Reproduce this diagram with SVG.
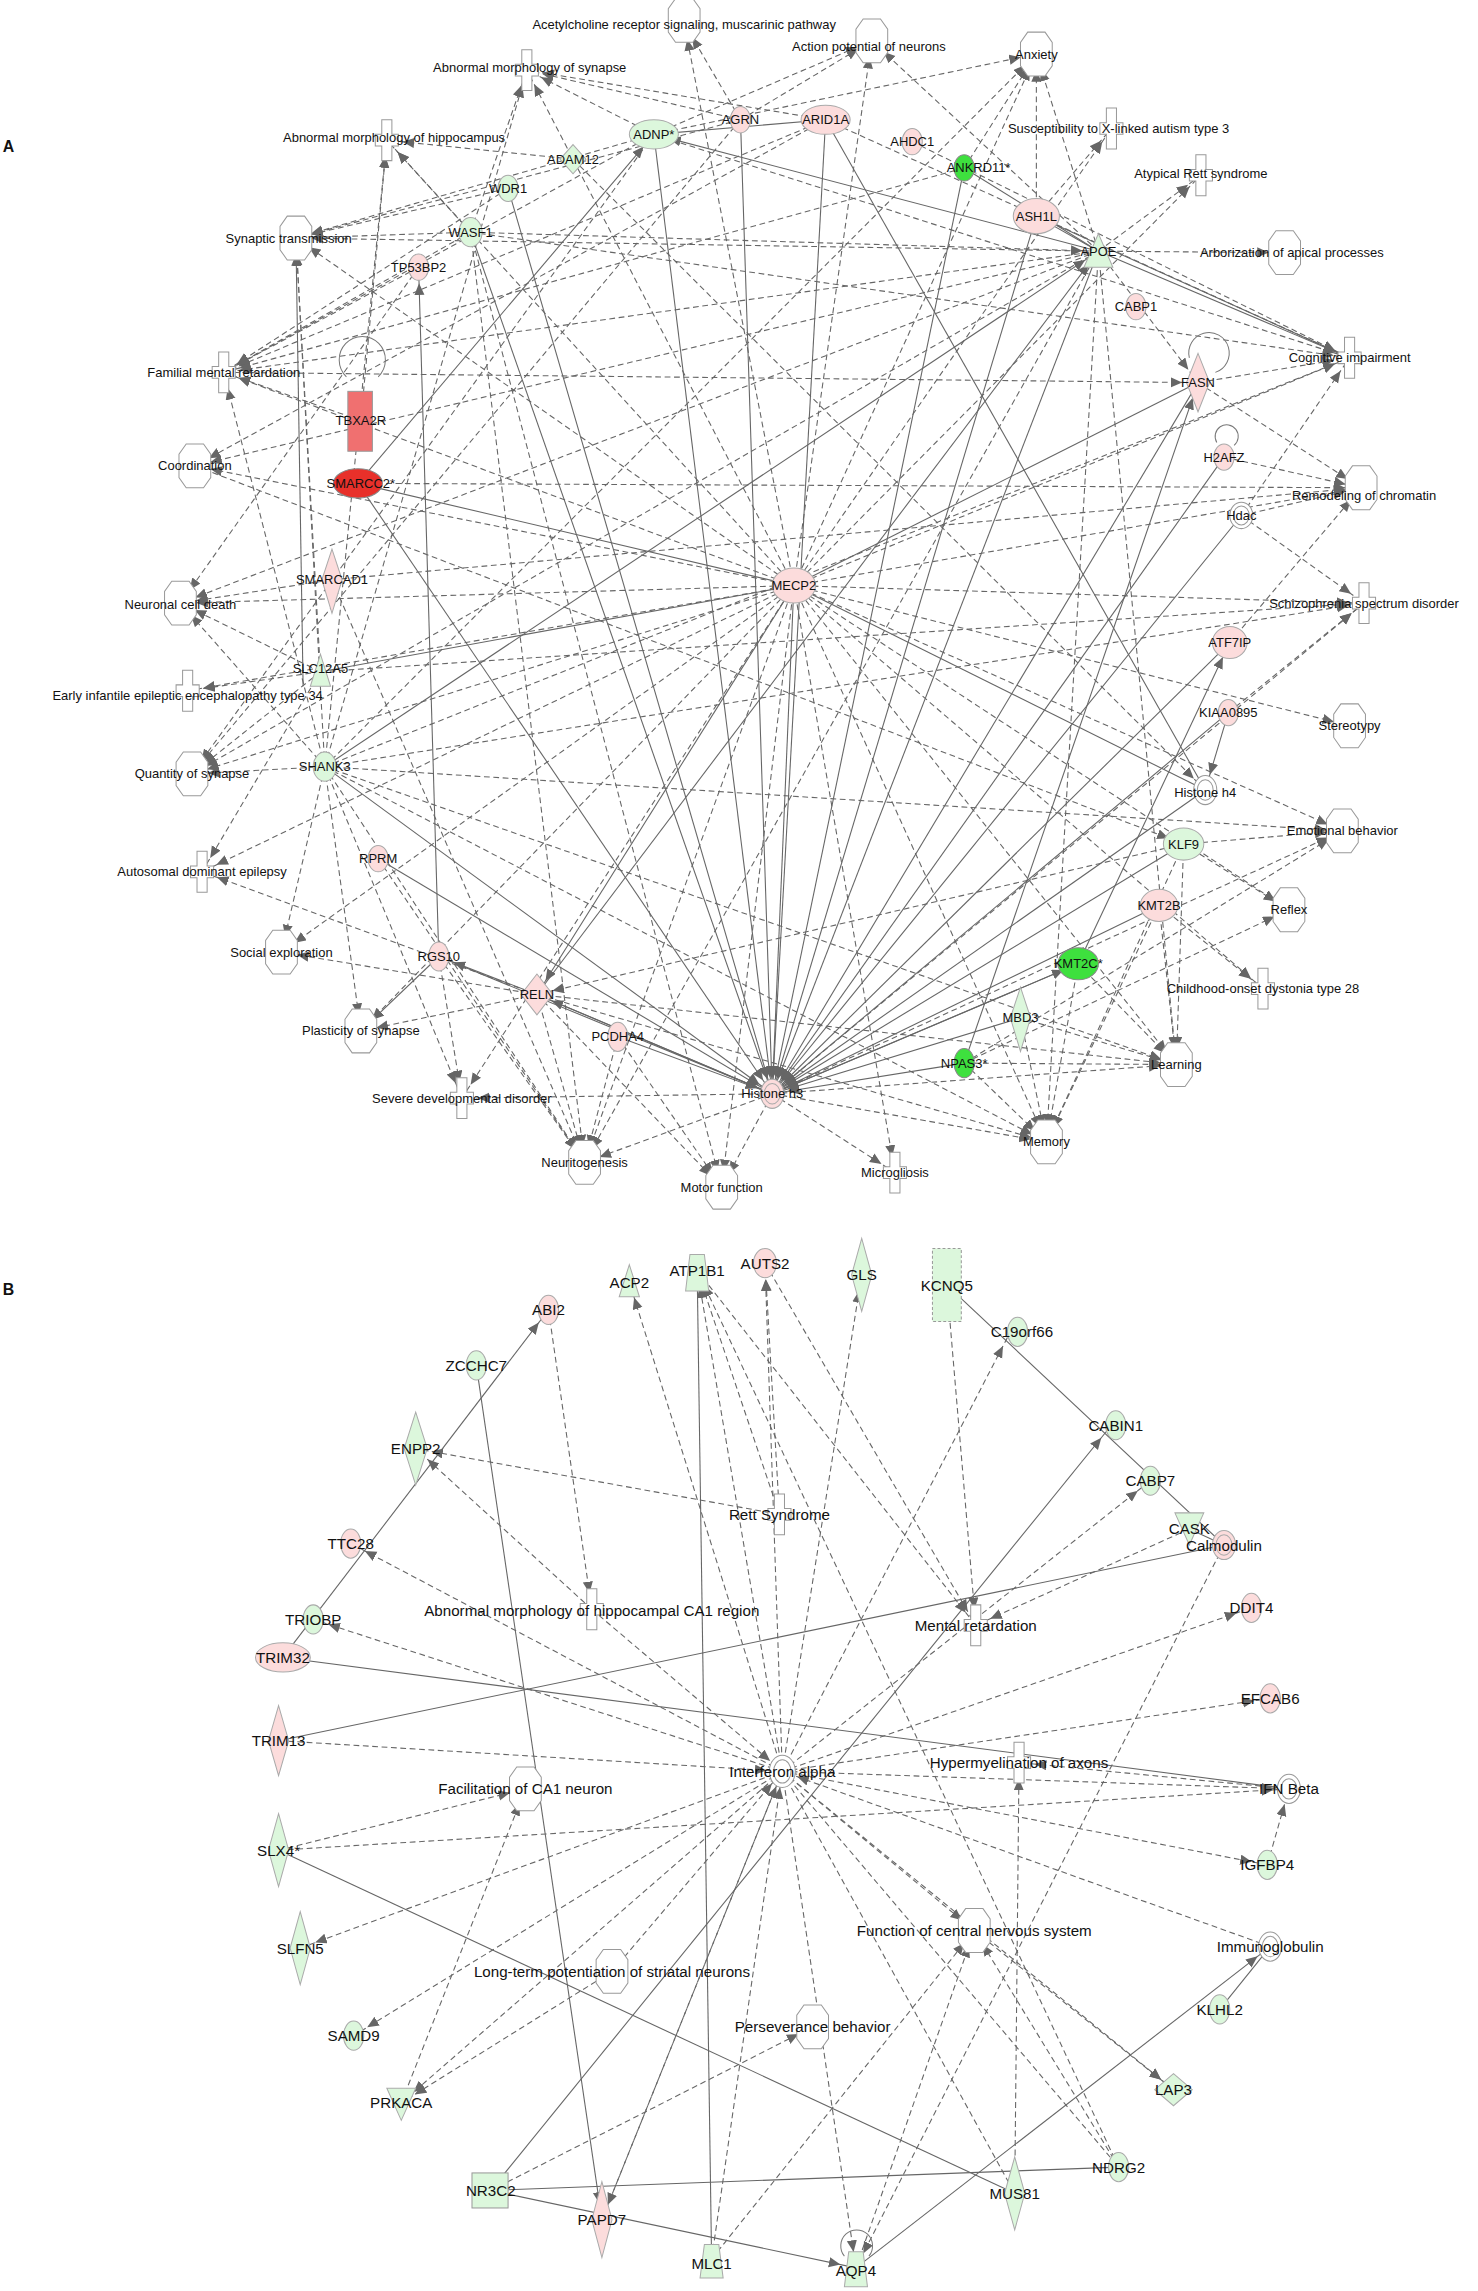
<svg xmlns="http://www.w3.org/2000/svg" xmlns:xlink="http://www.w3.org/1999/xlink" width="1478" height="2291" viewBox="0 0 1478 2291">
<style>
text{font-family:"Liberation Sans",Arial,sans-serif;font-size:9px;fill:#111;text-anchor:middle;dominant-baseline:central}
.pb text{font-size:10.5px}
.lbl{font-size:11px;font-weight:bold;text-anchor:start}
line{stroke:#666;stroke-width:0.75;fill:none}
.d{stroke-dasharray:4 2.5;marker-end:url(#ar)}
.s{marker-end:url(#ar)}
.dn{stroke-dasharray:4 2.5}
.fn{fill:#fff;stroke:#999;stroke-width:0.7}
.pk{fill:#fcdcdc;stroke:#aaa;stroke-width:0.7}
.gr{fill:#dcf7dc;stroke:#aaa;stroke-width:0.7}
.bg{fill:#3ee03e;stroke:#888;stroke-width:0.7}
.rd{fill:#e8302a;stroke:#888;stroke-width:0.7}
.loop{fill:none;stroke:#777;stroke-width:0.7}
</style>
<defs>
<marker id="ar" markerUnits="userSpaceOnUse" markerWidth="30" markerHeight="10" refX="19" refY="3.5" orient="auto"><path d="M0,0 L8,3.5 L0,7 z" fill="#666"/></marker>
<polygon id="oct" class="fn" points="-6,-15 6,-15 11,-8 11,8 6,15 -6,15 -11,8 -11,-8"/>
<polygon id="crs" class="fn" points="-3.5,-14 3.5,-14 3.5,-4 8,-4 8,4 3.5,4 3.5,14 -3.5,14 -3.5,4 -8,4 -8,-4 -3.5,-4"/>
</defs>
<rect width="1478" height="2291" fill="#fff"/>
<g transform="scale(1.4434,1.4603)">
<text class="lbl" x="2" y="100">A</text>
<text class="lbl" x="2" y="883">B</text>
<g id="connectors">
<line class="d" x1="550" y1="401" x2="474" y2="16"/><line class="d" x1="550" y1="401" x2="604" y2="28"/><line class="d" x1="550" y1="401" x2="718" y2="37"/><line class="d" x1="550" y1="401" x2="365" y2="48"/><line class="d" x1="550" y1="401" x2="268" y2="96"/><line class="d" x1="550" y1="401" x2="205" y2="163"/><line class="d" x1="550" y1="401" x2="155" y2="255"/><line class="d" x1="550" y1="401" x2="135" y2="319"/><line class="d" x1="550" y1="401" x2="943" y2="334"/><line class="d" x1="550" y1="401" x2="125" y2="413"/><line class="d" x1="550" y1="401" x2="945" y2="413"/><line class="d" x1="550" y1="401" x2="130" y2="473"/><line class="d" x1="550" y1="401" x2="935" y2="497"/><line class="d" x1="550" y1="401" x2="133" y2="530"/><line class="d" x1="550" y1="401" x2="930" y2="569"/><line class="d" x1="550" y1="401" x2="140" y2="597"/><line class="d" x1="550" y1="401" x2="893" y2="623"/><line class="d" x1="550" y1="401" x2="195" y2="652"/><line class="d" x1="550" y1="401" x2="250" y2="706"/><line class="d" x1="550" y1="401" x2="815" y2="729"/><line class="d" x1="550" y1="401" x2="320" y2="752"/><line class="d" x1="550" y1="401" x2="405" y2="796"/><line class="d" x1="550" y1="401" x2="500" y2="813"/><line class="d" x1="550" y1="401" x2="620" y2="803"/><line class="d" x1="550" y1="401" x2="725" y2="782"/><line class="d" x1="550" y1="401" x2="935" y2="245"/><line class="d" x1="550" y1="401" x2="770" y2="88"/><line class="d" x1="550" y1="401" x2="832" y2="120"/><line class="d" x1="550" y1="401" x2="875" y2="677"/>
<line class="s" x1="550" y1="401" x2="535" y2="749"/><line x1="550" y1="401" x2="222" y2="460"/><line class="s" x1="550" y1="401" x2="372" y2="681"/><line x1="550" y1="401" x2="830" y2="262"/><line x1="248" y1="331" x2="550" y2="401"/><line x1="550" y1="401" x2="835" y2="541"/>
<line class="s" x1="572" y1="82" x2="535" y2="749"/><line class="s" x1="453" y1="92" x2="535" y2="749"/><line class="s" x1="718" y1="148" x2="535" y2="749"/><line class="s" x1="761" y1="172" x2="535" y2="749"/><line class="s" x1="830" y1="262" x2="535" y2="749"/><line class="s" x1="852" y1="440" x2="535" y2="749"/><line class="s" x1="851" y1="488" x2="535" y2="749"/><line class="s" x1="835" y1="541" x2="535" y2="749"/><line class="s" x1="820" y1="578" x2="535" y2="749"/><line class="s" x1="803" y1="620" x2="535" y2="749"/><line class="s" x1="747" y1="660" x2="535" y2="749"/><line class="s" x1="225" y1="525" x2="535" y2="749"/><line class="s" x1="262" y1="588" x2="535" y2="749"/><line class="s" x1="304" y1="655" x2="535" y2="749"/><line class="s" x1="372" y1="681" x2="535" y2="749"/><line class="s" x1="326" y1="159" x2="535" y2="749"/><line class="s" x1="352" y1="129" x2="535" y2="749"/><line class="s" x1="513" y1="82" x2="535" y2="749"/><line class="s" x1="848" y1="313" x2="535" y2="749"/><line class="s" x1="860" y1="353" x2="535" y2="749"/><line class="s" x1="668" y1="728" x2="535" y2="749"/><line class="s" x1="707" y1="697" x2="535" y2="749"/><line class="s" x1="428" y1="710" x2="535" y2="749"/><line class="s" x1="248" y1="331" x2="535" y2="749"/><line class="s" x1="668" y1="115" x2="535" y2="749"/>
<line class="d" x1="535" y1="749" x2="405" y2="796"/><line class="d" x1="535" y1="749" x2="725" y2="782"/><line class="d" x1="535" y1="749" x2="815" y2="729"/><line class="d" x1="535" y1="749" x2="320" y2="752"/><line class="d" x1="535" y1="749" x2="620" y2="803"/><line class="d" x1="535" y1="749" x2="500" y2="813"/><line class="d" x1="535" y1="749" x2="945" y2="413"/><line class="d" x1="535" y1="749" x2="930" y2="569"/>
<line class="d" x1="761" y1="172" x2="718" y2="37"/><line class="d" x1="761" y1="172" x2="832" y2="120"/><line class="d" x1="761" y1="172" x2="890" y2="173"/><line class="s" x1="761" y1="172" x2="935" y2="245"/><line class="d" x1="761" y1="172" x2="205" y2="163"/><line class="d" x1="761" y1="172" x2="155" y2="255"/><line class="d" x1="761" y1="172" x2="133" y2="530"/><line class="d" x1="761" y1="172" x2="125" y2="413"/><line class="d" x1="761" y1="172" x2="135" y2="319"/><line class="d" x1="761" y1="172" x2="815" y2="729"/><line class="d" x1="761" y1="172" x2="725" y2="782"/><line class="d" x1="761" y1="172" x2="604" y2="28"/><line class="s" x1="761" y1="172" x2="453" y2="92"/><line x1="718" y1="148" x2="761" y2="172"/><line class="s" x1="372" y1="681" x2="761" y2="172"/><line class="s" x1="225" y1="525" x2="761" y2="172"/><line class="d" x1="761" y1="172" x2="830" y2="262"/><line class="d" x1="761" y1="172" x2="405" y2="796"/>
<line class="d" x1="453" y1="92" x2="718" y2="37"/><line class="d" x1="453" y1="92" x2="365" y2="48"/><line class="d" x1="453" y1="92" x2="205" y2="163"/><line class="d" x1="453" y1="92" x2="155" y2="255"/><line class="d" x1="453" y1="92" x2="935" y2="245"/><line class="d" x1="453" y1="92" x2="604" y2="28"/><line x1="453" y1="92" x2="572" y2="82"/><line class="d" x1="453" y1="92" x2="133" y2="530"/>
<line class="d" x1="572" y1="82" x2="155" y2="255"/><line class="d" x1="572" y1="82" x2="135" y2="319"/><line class="d" x1="572" y1="82" x2="935" y2="245"/><line class="d" x1="572" y1="82" x2="365" y2="48"/><line x1="572" y1="82" x2="835" y2="541"/>
<line class="d" x1="513" y1="82" x2="365" y2="48"/><line class="d" x1="513" y1="82" x2="205" y2="163"/><line class="d" x1="513" y1="82" x2="474" y2="16"/><line class="d" x1="513" y1="82" x2="604" y2="28"/><line class="d" x1="513" y1="82" x2="133" y2="530"/>
<line class="d" x1="632" y1="97" x2="935" y2="245"/><line class="d" x1="668" y1="115" x2="718" y2="37"/><line x1="668" y1="115" x2="761" y2="172"/><line class="d" x1="668" y1="115" x2="155" y2="255"/>
<line class="d" x1="718" y1="148" x2="718" y2="37"/><line class="d" x1="718" y1="148" x2="770" y2="88"/><line class="s" x1="718" y1="148" x2="935" y2="245"/>
<line class="d" x1="397" y1="109" x2="268" y2="96"/><line class="d" x1="397" y1="109" x2="835" y2="541"/><line class="d" x1="352" y1="129" x2="205" y2="163"/><line class="d" x1="352" y1="129" x2="155" y2="255"/>
<line class="d" x1="326" y1="159" x2="205" y2="163"/><line class="d" x1="326" y1="159" x2="155" y2="255"/><line class="d" x1="326" y1="159" x2="268" y2="96"/><line class="d" x1="326" y1="159" x2="365" y2="48"/><line class="d" x1="326" y1="159" x2="405" y2="796"/><line class="d" x1="326" y1="159" x2="500" y2="813"/><line class="d" x1="326" y1="159" x2="761" y2="172"/><line class="d" x1="326" y1="159" x2="935" y2="245"/>
<line class="d" x1="290" y1="183" x2="125" y2="413"/><line class="d" x1="290" y1="183" x2="155" y2="255"/>
<line class="d" x1="225" y1="525" x2="268" y2="96"/><line class="d" x1="225" y1="525" x2="365" y2="48"/><line class="d" x1="225" y1="525" x2="205" y2="163"/><line class="d" x1="225" y1="525" x2="155" y2="255"/><line class="d" x1="225" y1="525" x2="133" y2="530"/><line class="d" x1="225" y1="525" x2="195" y2="652"/><line class="d" x1="225" y1="525" x2="250" y2="706"/><line class="d" x1="225" y1="525" x2="320" y2="752"/><line class="d" x1="225" y1="525" x2="405" y2="796"/><line class="d" x1="225" y1="525" x2="815" y2="729"/><line class="d" x1="225" y1="525" x2="725" y2="782"/><line class="d" x1="225" y1="525" x2="718" y2="37"/><line class="d" x1="225" y1="525" x2="930" y2="569"/><line class="d" x1="225" y1="525" x2="945" y2="413"/><line class="d" x1="225" y1="525" x2="935" y2="245"/><line class="d" x1="225" y1="525" x2="125" y2="413"/>
<line class="d" x1="222" y1="460" x2="130" y2="473"/><line class="d" x1="222" y1="460" x2="125" y2="413"/><line class="d" x1="222" y1="460" x2="205" y2="163"/><line class="d" x1="222" y1="460" x2="133" y2="530"/><line class="d" x1="222" y1="460" x2="945" y2="413"/><line class="d" x1="222" y1="460" x2="140" y2="597"/>
<line class="d" x1="230" y1="397" x2="125" y2="413"/><line class="d" x1="230" y1="397" x2="943" y2="334"/><line class="d" x1="230" y1="397" x2="405" y2="796"/>
<line class="d" x1="250" y1="288" x2="155" y2="255"/><line class="d" x1="250" y1="288" x2="268" y2="96"/><line class="d" x1="248" y1="331" x2="943" y2="334"/><line class="s" x1="248" y1="331" x2="453" y2="92"/><line class="d" x1="135" y1="319" x2="820" y2="578"/>
<line class="d" x1="830" y1="262" x2="935" y2="245"/><line class="d" x1="830" y1="262" x2="943" y2="334"/><line class="d" x1="155" y1="255" x2="830" y2="262"/><line class="s" x1="668" y1="728" x2="830" y2="262"/>
<line class="d" x1="848" y1="313" x2="943" y2="334"/><line class="d" x1="860" y1="353" x2="943" y2="334"/><line class="d" x1="860" y1="353" x2="935" y2="245"/><line class="d" x1="860" y1="353" x2="945" y2="413"/>
<line class="d" x1="852" y1="440" x2="943" y2="334"/><line class="d" x1="851" y1="488" x2="945" y2="413"/><line class="s" x1="851" y1="488" x2="835" y2="541"/><line class="s" x1="747" y1="660" x2="852" y2="440"/>
<line class="d" x1="820" y1="578" x2="930" y2="569"/><line class="d" x1="820" y1="578" x2="893" y2="623"/><line class="d" x1="820" y1="578" x2="725" y2="782"/><line class="d" x1="820" y1="578" x2="815" y2="729"/><line class="d" x1="820" y1="578" x2="372" y2="681"/>
<line class="d" x1="803" y1="620" x2="875" y2="677"/><line class="d" x1="803" y1="620" x2="815" y2="729"/><line class="d" x1="803" y1="620" x2="725" y2="782"/>
<line class="d" x1="747" y1="660" x2="815" y2="729"/><line class="d" x1="747" y1="660" x2="725" y2="782"/><line class="s" x1="535" y1="749" x2="747" y2="660"/>
<line class="d" x1="668" y1="728" x2="815" y2="729"/><line class="d" x1="668" y1="728" x2="725" y2="782"/><line class="d" x1="668" y1="728" x2="930" y2="569"/><line class="d" x1="668" y1="728" x2="893" y2="623"/>
<line class="d" x1="707" y1="697" x2="725" y2="782"/><line class="d" x1="707" y1="697" x2="815" y2="729"/>
<line class="d" x1="372" y1="681" x2="250" y2="706"/><line class="d" x1="372" y1="681" x2="140" y2="597"/><line class="d" x1="372" y1="681" x2="405" y2="796"/><line class="d" x1="372" y1="681" x2="500" y2="813"/><line class="d" x1="372" y1="681" x2="815" y2="729"/><line class="d" x1="372" y1="681" x2="725" y2="782"/><line class="d" x1="372" y1="681" x2="195" y2="652"/><line class="s" x1="535" y1="749" x2="372" y2="681"/><line class="s" x1="372" y1="681" x2="304" y2="655"/>
<line class="d" x1="262" y1="588" x2="405" y2="796"/><line class="s" x1="304" y1="655" x2="250" y2="706"/><line class="d" x1="304" y1="655" x2="320" y2="752"/><line class="d" x1="304" y1="655" x2="405" y2="796"/><line class="s" x1="304" y1="655" x2="290" y2="183"/>
<line class="d" x1="428" y1="710" x2="405" y2="796"/><line class="d" x1="428" y1="710" x2="500" y2="813"/>
<line class="s" x1="210" y1="470" x2="205" y2="163"/>
<line class="s" x1="196" y1="1135" x2="380" y2="897"/><line class="s" x1="330" y1="935" x2="417" y2="1520"/><line x1="483" y1="870" x2="493" y2="1547"/><line x1="656" y1="880" x2="848" y2="1058"/><line x1="824" y1="1047" x2="848" y2="1058"/><line x1="848" y1="1058" x2="193" y2="1192"/><line x1="196" y1="1135" x2="893" y2="1225"/><line class="s" x1="340" y1="1500" x2="770" y2="976"/><line x1="340" y1="1500" x2="775" y2="1484"/><line class="s" x1="340" y1="1500" x2="593" y2="1553"/><line x1="193" y1="1267" x2="703" y2="1502"/><line class="s" x1="593" y1="1553" x2="880" y2="1333"/><line x1="845" y1="1376" x2="880" y2="1333"/>
<line class="d" x1="542" y1="1213" x2="436" y2="878"/><line class="d" x1="542" y1="1213" x2="483" y2="870"/><line class="d" x1="542" y1="1213" x2="530" y2="865"/><line class="d" x1="542" y1="1213" x2="597" y2="873"/><line class="d" x1="542" y1="1213" x2="243" y2="1057"/><line class="d" x1="542" y1="1213" x2="217" y2="1109"/><line class="d" x1="542" y1="1213" x2="208" y2="1334"/><line class="d" x1="542" y1="1213" x2="278" y2="1440"/><line class="d" x1="542" y1="1213" x2="878" y2="1277"/><line class="d" x1="542" y1="1213" x2="813" y2="1431"/><line class="d" x1="542" y1="1213" x2="880" y2="1163"/><line class="d" x1="542" y1="1213" x2="867" y2="1101"/><line class="d" x1="542" y1="1213" x2="893" y2="1225"/><line class="dn" x1="542" y1="1213" x2="775" y2="1484"/><line class="dn" x1="542" y1="1213" x2="703" y2="1502"/><line class="d" x1="542" y1="1213" x2="417" y2="1520"/><line class="d" x1="542" y1="1213" x2="593" y2="1553"/><line class="d" x1="542" y1="1213" x2="700" y2="912"/><line class="d" x1="542" y1="1213" x2="797" y2="1014"/><line class="d" x1="542" y1="1213" x2="675" y2="1322"/><line class="d" x1="193" y1="1192" x2="542" y2="1213"/><line class="d" x1="193" y1="1267" x2="364" y2="1225"/><line class="d" x1="493" y1="1547" x2="542" y2="1213"/><line class="d" x1="880" y1="1333" x2="542" y2="1213"/><line class="d" x1="410" y1="1102" x2="542" y2="1213"/><line class="d" x1="893" y1="1225" x2="706" y2="1207"/>
<line class="d" x1="540" y1="1037" x2="288" y2="992"/><line class="d" x1="540" y1="1037" x2="530" y2="865"/><line class="d" x1="540" y1="1037" x2="483" y2="870"/><line class="d" x1="380" y1="897" x2="410" y2="1102"/><line class="d" x1="410" y1="1102" x2="288" y2="992"/>
<line class="d" x1="530" y1="865" x2="676" y2="1113"/><line class="d" x1="656" y1="880" x2="676" y2="1113"/><line class="d" x1="824" y1="1047" x2="676" y2="1113"/><line class="d" x1="483" y1="870" x2="676" y2="1113"/>
<line class="d" x1="593" y1="1553" x2="675" y2="1322"/><line class="d" x1="493" y1="1547" x2="675" y2="1322"/><line class="d" x1="775" y1="1484" x2="675" y2="1322"/><line class="d" x1="675" y1="1322" x2="813" y2="1431"/>
<line class="d" x1="424" y1="1350" x2="278" y2="1440"/><line class="d" x1="340" y1="1500" x2="563" y2="1388"/><line class="d" x1="278" y1="1440" x2="364" y2="1225"/><line class="d" x1="193" y1="1267" x2="893" y2="1225"/><line class="d" x1="542" y1="1213" x2="245" y2="1394"/><line class="d" x1="848" y1="1058" x2="593" y2="1553"/><line class="d" x1="878" y1="1277" x2="893" y2="1225"/><line class="d" x1="775" y1="1484" x2="483" y2="870"/><line class="d" x1="703" y1="1502" x2="706" y2="1207"/><line class="d" x1="417" y1="1520" x2="542" y2="1213"/><line class="d" x1="424" y1="1350" x2="542" y2="1213"/>
</g>
<path class="loop" d="M240,258 A16,16 0 1 1 262,258"/>
<path class="loop" d="M824,245 A14,14 0 1 1 842,255"/>
<path class="loop" d="M843,303 A8,8 0 1 1 855,305"/>
<path class="loop" d="M585,1545 A11,11 0 1 1 602,1545"/>
<g id="f-ach"><use href="#oct" x="474" y="14"/><text x="474" y="17">Acetylcholine receptor signaling, muscarinic pathway</text></g>
<g id="f-ap"><use href="#oct" x="604" y="28"/><text x="602" y="32">Action potential of neurons</text></g>
<g id="f-anx"><use href="#oct" x="718" y="37"/><text x="718" y="37">Anxiety</text></g>
<g id="f-ams"><use href="#crs" x="365" y="48"/><text x="367" y="46">Abnormal morphology of synapse</text></g>
<g id="f-amh"><use href="#crs" x="268" y="96"/><text x="273" y="94">Abnormal morphology of hippocampus</text></g>
<g id="f-sxa"><use href="#crs" x="770" y="88"/><text x="775" y="88">Susceptibility to X-linked autism type 3</text></g>
<g id="f-ars"><use href="#crs" x="832" y="120"/><text x="832" y="119">Atypical Rett syndrome</text></g>
<g id="f-st"><use href="#oct" x="205" y="163"/><text x="200" y="163">Synaptic transmission</text></g>
<g id="f-aap"><use href="#oct" x="890" y="173"/><text x="895" y="173">Arborization of apical processes</text></g>
<g id="f-ci"><use href="#crs" x="935" y="245"/><text x="935" y="245">Cognitive impairment</text></g>
<g id="f-fmr"><use href="#crs" x="155" y="255"/><text x="155" y="255">Familial mental retardation</text></g>
<g id="f-co"><use href="#oct" x="135" y="319"/><text x="135" y="319">Coordination</text></g>
<g id="f-rc"><use href="#oct" x="943" y="334"/><text x="945" y="339">Remodeling of chromatin</text></g>
<g id="f-ncd"><use href="#oct" x="125" y="413"/><text x="125" y="414">Neuronal cell death</text></g>
<g id="f-ssd"><use href="#crs" x="945" y="413"/><text x="945" y="413">Schizophrenia spectrum disorder</text></g>
<g id="f-eie"><use href="#crs" x="130" y="473"/><text x="130" y="476">Early infantile epileptic encephalopathy type 34</text></g>
<g id="f-ste"><use href="#oct" x="935" y="497"/><text x="935" y="497">Stereotypy</text></g>
<g id="f-qs"><use href="#oct" x="133" y="530"/><text x="133" y="530">Quantity of synapse</text></g>
<g id="f-eb"><use href="#oct" x="930" y="569"/><text x="930" y="569">Emotional behavior</text></g>
<g id="f-ade"><use href="#crs" x="140" y="597"/><text x="140" y="597">Autosomal dominant epilepsy</text></g>
<g id="f-ref"><use href="#oct" x="893" y="623"/><text x="893" y="623">Reflex</text></g>
<g id="f-se"><use href="#oct" x="195" y="652"/><text x="195" y="652">Social exploration</text></g>
<g id="f-cod"><use href="#crs" x="875" y="677"/><text x="875" y="677">Childhood-onset dystonia type 28</text></g>
<g id="f-ps"><use href="#oct" x="250" y="706"/><text x="250" y="706">Plasticity of synapse</text></g>
<g id="f-le"><use href="#oct" x="815" y="729"/><text x="815" y="729">Learning</text></g>
<g id="f-sdd"><use href="#crs" x="320" y="752"/><text x="320" y="752">Severe developmental disorder</text></g>
<g id="f-neu"><use href="#oct" x="405" y="796"/><text x="405" y="796">Neuritogenesis</text></g>
<g id="f-mf"><use href="#oct" x="500" y="813"/><text x="500" y="813">Motor function</text></g>
<g id="f-mg"><use href="#crs" x="620" y="803"/><text x="620" y="803">Microgliosis</text></g>
<g id="f-mem"><use href="#oct" x="725" y="782"/><text x="725" y="782">Memory</text></g>
<g id="n-agrn"><ellipse class="pk" cx="513" cy="82" rx="7" ry="9"/><text x="513" y="82">AGRN</text></g>
<g id="n-arid1a"><ellipse class="pk" cx="572" cy="82" rx="17" ry="10"/><text x="572" y="82">ARID1A</text></g>
<g id="n-adnp"><ellipse class="gr" cx="453" cy="92" rx="17" ry="10"/><text x="453" y="92">ADNP*</text></g>
<g id="n-ahdc1"><ellipse class="pk" cx="632" cy="97" rx="7" ry="9"/><text x="632" y="97">AHDC1</text></g>
<g id="n-ankrd11"><ellipse class="bg" cx="668" cy="115" rx="7" ry="9"/><text x="678" y="115">ANKRD11*</text></g>
<g id="n-adam12"><polygon class="gr" points="397,99 406,109 397,119 388,109"/><text x="397" y="109">ADAM12</text></g>
<g id="n-wdr1"><ellipse class="gr" cx="352" cy="129" rx="7" ry="9"/><text x="352" y="129">WDR1</text></g>
<g id="n-ash1l"><ellipse class="pk" cx="718" cy="148" rx="16" ry="12"/><text x="718" y="148">ASH1L</text></g>
<g id="n-wasf1"><ellipse class="gr" cx="326" cy="159" rx="8" ry="10"/><text x="326" y="159">WASF1</text></g>
<g id="n-apoe"><polygon class="gr" points="761,160 771,183 751,183"/><text x="761" y="172">APOE</text></g>
<g id="n-tp53bp2"><ellipse class="pk" cx="290" cy="183" rx="7" ry="9"/><text x="290" y="183">TP53BP2</text></g>
<g id="n-cabp1"><ellipse class="pk" cx="787" cy="210" rx="7" ry="9"/><text x="787" y="210">CABP1</text></g>
<g id="n-fasn"><polygon class="pk" points="830,242 838,262 830,282 822,262"/><text x="830" y="262">FASN</text></g>
<g id="n-tbxa2r"><rect x="241" y="268" width="17" height="41" fill="#f07070" stroke="#999" stroke-width="0.7"/><text x="250" y="288">TBXA2R</text></g>
<g id="n-smarcc2"><ellipse class="rd" cx="248" cy="331" rx="17" ry="10"/><text x="250" y="331">SMARCC2*</text></g>
<g id="n-h2afz"><ellipse class="pk" cx="848" cy="313" rx="7" ry="9"/><text x="848" y="313">H2AFZ</text></g>
<g id="n-hdac"><ellipse class="fn" cx="860" cy="353" rx="8" ry="9"/><ellipse class="fn" cx="860" cy="353" rx="5.5" ry="6.5"/><text x="860" y="353">Hdac</text></g>
<g id="n-smarcad1"><polygon class="pk" points="230,376 237,397 230,420 223,397"/><text x="230" y="397">SMARCAD1</text></g>
<g id="n-mecp2"><ellipse class="pk" cx="550" cy="401" rx="15" ry="12"/><text x="550" y="401">MECP2</text></g>
<g id="n-atf7ip"><ellipse class="pk" cx="852" cy="440" rx="12" ry="11"/><text x="852" y="440">ATF7IP</text></g>
<g id="n-slc12a5"><polygon class="gr" points="222,448 229,470 215,470"/><text x="222" y="458">SLC12A5</text></g>
<g id="n-kiaa0895"><ellipse class="pk" cx="851" cy="488" rx="7" ry="9"/><text x="851" y="488">KIAA0895</text></g>
<g id="n-shank3"><ellipse class="gr" cx="225" cy="525" rx="8" ry="10"/><text x="225" y="525">SHANK3</text></g>
<g id="n-histoneh4"><ellipse class="fn" cx="835" cy="541" rx="8" ry="10"/><ellipse class="fn" cx="835" cy="541" rx="5.5" ry="7"/><text x="835" y="543">Histone h4</text></g>
<g id="n-klf9"><ellipse class="gr" cx="820" cy="578" rx="14" ry="11"/><text x="820" y="578">KLF9</text></g>
<g id="n-rprm"><ellipse class="pk" cx="262" cy="588" rx="7" ry="9"/><text x="262" y="588">RPRM</text></g>
<g id="n-kmt2b"><ellipse class="pk" cx="803" cy="620" rx="13" ry="11"/><text x="803" y="620">KMT2B</text></g>
<g id="n-rgs10"><ellipse class="pk" cx="304" cy="655" rx="7" ry="10"/><text x="304" y="655">RGS10</text></g>
<g id="n-kmt2c"><ellipse class="bg" cx="747" cy="660" rx="14" ry="11"/><text x="747" y="660">KMT2C*</text></g>
<g id="n-reln"><polygon class="pk" points="372,667 383,681 372,695 361,681"/><text x="372" y="681">RELN</text></g>
<g id="n-mbd3"><polygon class="gr" points="707,676 714,697 707,720 700,697"/><text x="707" y="697">MBD3</text></g>
<g id="n-pcdha4"><ellipse class="pk" cx="428" cy="710" rx="7" ry="10"/><text x="428" y="710">PCDHA4</text></g>
<g id="n-npas3"><ellipse class="bg" cx="668" cy="728" rx="7" ry="10"/><text x="668" y="728">NPAS3*</text></g>
<g id="n-histoneh3"><ellipse class="pk" cx="535" cy="749" rx="8" ry="10"/><ellipse class="pk" cx="535" cy="749" rx="5.5" ry="7"/><text x="535" y="749">Histone h3</text></g>
<g class="pb">
<g id="n-acp2"><polygon class="gr" points="436,866 443,888 429,888"/><text x="436" y="878">ACP2</text></g>
<g id="n-atp1b1"><polygon class="gr" points="478,859 488,859 491,884 475,884"/><text x="483" y="870">ATP1B1</text></g>
<g id="n-auts2"><ellipse class="pk" cx="530" cy="865" rx="8" ry="10"/><text x="530" y="865">AUTS2</text></g>
<g id="n-gls"><polygon class="gr" points="597,848 604,873 597,898 590,873"/><text x="597" y="873">GLS</text></g>
<g id="n-kcnq5"><rect x="646" y="855" width="20" height="50" fill="#dcf7dc" stroke="#999" stroke-width="0.7" stroke-dasharray="2 1.5"/><text x="656" y="880">KCNQ5</text></g>
<g id="n-abi2"><ellipse class="pk" cx="380" cy="897" rx="7" ry="10"/><text x="380" y="897">ABI2</text></g>
<g id="n-c19orf66"><ellipse class="gr" cx="705" cy="912" rx="7" ry="10"/><text x="708" y="912">C19orf66</text></g>
<g id="n-zcchc7"><ellipse class="gr" cx="330" cy="935" rx="7" ry="10"/><text x="330" y="935">ZCCHC7</text></g>
<g id="n-cabin1"><ellipse class="gr" cx="773" cy="976" rx="7" ry="10"/><text x="773" y="976">CABIN1</text></g>
<g id="n-enpp2"><polygon class="gr" points="288,967 296,992 288,1017 280,992"/><text x="288" y="992">ENPP2</text></g>
<g id="n-cabp7"><ellipse class="gr" cx="797" cy="1014" rx="7" ry="10"/><text x="797" y="1014">CABP7</text></g>
<g id="n-cask"><polygon class="gr" points="814,1036 834,1036 824,1058"/><text x="824" y="1047">CASK</text></g>
<g id="n-ttc28"><ellipse class="pk" cx="243" cy="1057" rx="7" ry="10"/><text x="243" y="1057">TTC28</text></g>
<g id="n-calmodulin"><ellipse class="pk" cx="848" cy="1058" rx="8" ry="10"/><ellipse class="pk" cx="848" cy="1058" rx="5.5" ry="7"/><text x="848" y="1058">Calmodulin</text></g>
<g id="n-triobp"><ellipse class="gr" cx="217" cy="1109" rx="7" ry="10"/><text x="217" y="1109">TRIOBP</text></g>
<g id="n-ddit4"><ellipse class="pk" cx="867" cy="1101" rx="7" ry="10"/><text x="867" y="1101">DDIT4</text></g>
<g id="n-trim32"><ellipse class="pk" cx="196" cy="1135" rx="19" ry="10"/><text x="196" y="1135">TRIM32</text></g>
<g id="n-efcab6"><ellipse class="pk" cx="880" cy="1163" rx="7" ry="10"/><text x="880" y="1163">EFCAB6</text></g>
<g id="n-trim13"><polygon class="pk" points="193,1168 200,1192 193,1216 186,1192"/><text x="193" y="1192">TRIM13</text></g>
<g id="n-ifna"><ellipse class="fn" cx="542" cy="1213" rx="9" ry="11"/><ellipse class="fn" cx="542" cy="1213" rx="6" ry="8"/><text x="542" y="1213">Interferon alpha</text></g>
<g id="n-ifnb"><ellipse class="fn" cx="893" cy="1225" rx="8" ry="10"/><ellipse class="fn" cx="893" cy="1225" rx="5.5" ry="7"/><text x="893" y="1225">IFN Beta</text></g>
<g id="n-slx4"><polygon class="gr" points="193,1242 200,1267 193,1292 186,1267"/><text x="193" y="1267">SLX4*</text></g>
<g id="n-igfbp4"><ellipse class="gr" cx="878" cy="1277" rx="7" ry="10"/><text x="878" y="1277">IGFBP4</text></g>
<g id="n-slfn5"><polygon class="gr" points="208,1309 215,1334 208,1359 201,1334"/><text x="208" y="1334">SLFN5</text></g>
<g id="n-immuno"><ellipse class="fn" cx="880" cy="1333" rx="8" ry="10"/><ellipse class="fn" cx="880" cy="1333" rx="5.5" ry="7"/><text x="880" y="1333">Immunoglobulin</text></g>
<g id="n-samd9"><ellipse class="gr" cx="245" cy="1394" rx="7" ry="10"/><text x="245" y="1394">SAMD9</text></g>
<g id="n-klhl2"><ellipse class="gr" cx="845" cy="1376" rx="7" ry="10"/><text x="845" y="1376">KLHL2</text></g>
<g id="n-prkaca"><polygon class="gr" points="268,1430 288,1430 278,1452"/><text x="278" y="1440">PRKACA</text></g>
<g id="n-lap3"><polygon class="gr" points="813,1420 826,1431 813,1442 800,1431"/><text x="813" y="1431">LAP3</text></g>
<g id="n-ndrg2"><ellipse class="gr" cx="775" cy="1484" rx="7" ry="10"/><text x="775" y="1484">NDRG2</text></g>
<g id="n-nr3c2"><rect x="327" y="1488" width="25" height="24" fill="#dcf7dc" stroke="#999" stroke-width="0.7"/><text x="340" y="1500">NR3C2</text></g>
<g id="n-mus81"><polygon class="gr" points="703,1477 710,1502 703,1527 696,1502"/><text x="703" y="1502">MUS81</text></g>
<g id="n-papd7"><polygon class="pk" points="417,1494 424,1520 417,1546 410,1520"/><text x="417" y="1520">PAPD7</text></g>
<g id="n-mlc1"><polygon class="gr" points="488,1537 498,1537 501,1560 485,1560"/><text x="493" y="1550">MLC1</text></g>
<g id="n-aqp4"><polygon class="gr" points="588,1542 598,1542 601,1566 585,1566"/><text x="593" y="1555">AQP4</text></g>
<g id="f-rett"><use href="#crs" x="540" y="1037"/><text x="540" y="1037">Rett Syndrome</text></g>
<g id="f-amca1"><use href="#crs" x="410" y="1102"/><text x="410" y="1103">Abnormal morphology of hippocampal CA1 region</text></g>
<g id="f-mr"><use href="#crs" x="676" y="1113"/><text x="676" y="1113">Mental retardation</text></g>
<g id="f-hyp"><use href="#crs" x="706" y="1207"/><text x="706" y="1207">Hypermyelination of axons</text></g>
<g id="f-fca1"><use href="#oct" x="364" y="1225"/><text x="364" y="1225">Facilitation of CA1 neuron</text></g>
<g id="f-fcns"><use href="#oct" x="675" y="1322"/><text x="675" y="1322">Function of central nervous system</text></g>
<g id="f-ltp"><use href="#oct" x="424" y="1350"/><text x="424" y="1350">Long-term potentiation of striatal neurons</text></g>
<g id="f-pb"><use href="#oct" x="563" y="1388"/><text x="563" y="1388">Perseverance behavior</text></g>
</g>
</g>
</svg>
